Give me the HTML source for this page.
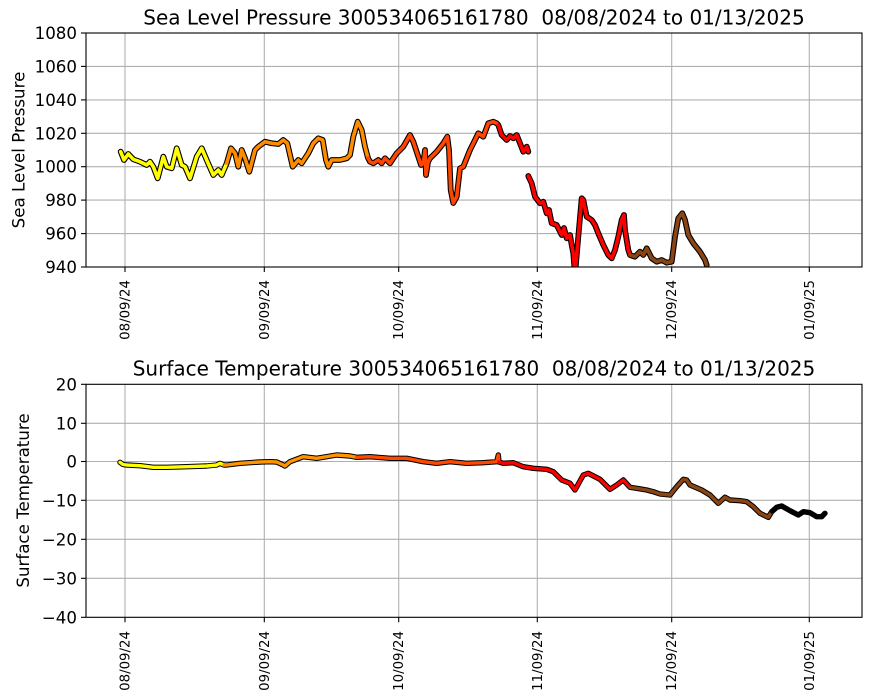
<!DOCTYPE html>
<html><head><meta charset="utf-8"><style>
html,body{margin:0;padding:0;background:#fff;}
svg{display:block;font-family:"DejaVu Sans","Liberation Sans",sans-serif;}
</style></head><body>
<svg width="870" height="700" viewBox="0 0 870 700" xmlns="http://www.w3.org/2000/svg">
<rect width="870" height="700" fill="#fff"/>
<defs>
<clipPath id="c1"><rect x="86" y="33" width="776" height="234"/></clipPath>
<clipPath id="c2"><rect x="86" y="384.3" width="776" height="233"/></clipPath>
</defs>

<!-- ===== TOP PLOT ===== -->
<g stroke="#b0b0b0" stroke-width="1.1" fill="none">
<line x1="125" y1="33" x2="125" y2="267"/><line x1="264.3" y1="33" x2="264.3" y2="267"/>
<line x1="398.7" y1="33" x2="398.7" y2="267"/><line x1="537.3" y1="33" x2="537.3" y2="267"/>
<line x1="671.7" y1="33" x2="671.7" y2="267"/><line x1="809.3" y1="33" x2="809.3" y2="267"/>
<line x1="86" y1="66.4" x2="862" y2="66.4"/><line x1="86" y1="99.9" x2="862" y2="99.9"/>
<line x1="86" y1="133.3" x2="862" y2="133.3"/><line x1="86" y1="166.7" x2="862" y2="166.7"/>
<line x1="86" y1="200.1" x2="862" y2="200.1"/><line x1="86" y1="233.6" x2="862" y2="233.6"/>
</g>
<g clip-path="url(#c1)" fill="none" stroke-linejoin="round" stroke-linecap="round">
<g stroke="#000" stroke-width="5.8">
<polyline points="120.7,151.7 124,160 128.3,154 133.3,159.3 140,161.7 146.7,165 150,161.7 153.3,166.7 157.7,178.3 163.3,156.7 166.7,166.7 171.7,168.3 176.7,148.3 181.7,165 185,166.7 190,178.3 196.7,156.7 201.7,148.3 206.7,160 213.3,175 218.3,170 221.7,175 226.7,163.3 231,148.3 235,153.3 238.3,166.7 241.7,150 245,158.3 249.3,171.7 255,150 258.3,146.7 265,141.7 271.7,143.3 278.3,144 283.3,140 287.3,143.3 292.7,166.7 298.3,160 301.7,163.3 308.3,153.3 313.3,143.3 318.3,138.3 322.7,140 326,160 328.3,166.7 331.7,160 340,160 346.7,158.3 350,155 353.3,136.7 357.7,121.7 361.7,130 365,146.7 368,158 370,161.7 373.3,163.3 378.3,160 381.7,163.3 385,158.3 390,163.3 396.7,153.3 403.3,146.7 410,135 413.3,141.7 418.3,156.7 421,165 423.3,163.3 425,150 426,175 428,162 430,158.3 436.7,151.7 443.3,143.3 447.3,136.7 449,150 450.7,190 453.3,203 456.7,196.7 460,168.3 463.3,166.7 470,150 475,140 478.3,133.3 483.3,136.7 488.3,123.3 493.3,121.7 496.7,123.3 498.3,125 501.7,135 506.7,140 510,136 513.3,138.3 516.7,135 520,143.3 523.3,151.7 526.7,146.7 528.3,151.7"/>
<polyline points="528.3,176 531.7,183.3 535,196.7 540,203.3 543.3,201.7 546.7,213.3 549,210 551.7,223.3 556.7,225 561.7,235 564,228 566.7,238.3 570,235 571.7,245 573.3,253.3 575,275 578,240 581.7,198.3 583.3,200 586.7,216.7 591.7,220 595,225 598.3,233.3 603.3,245 608.3,255 611.7,258.3 615,250 618.3,236.7 621.7,220 624,215 625,230 628.3,250 630,255 635,256.7 640,251.7 643.3,255 646.7,248.3 651.7,258.3 656.7,261.7 661.7,260 666.7,262.7 671.7,261.7 675,236.7 678.3,218.3 682.3,213.3 685,220 688.3,235 693.3,243.3 700,251.7 705,260 706.7,265"/>
</g>
<g stroke-width="3.6">
<polyline stroke="#ffff00" points="120.7,151.7 124,160 128.3,154 133.3,159.3 140,161.7 146.7,165 150,161.7 153.3,166.7 157.7,178.3 163.3,156.7 166.7,166.7 171.7,168.3 176.7,148.3 181.7,165 185,166.7 190,178.3 196.7,156.7 201.7,148.3 206.7,160 213.3,175 218.3,170 221.7,175 226.7,163.3"/>
<polyline stroke="#ff8c00" points="226.7,163.3 231,148.3 235,153.3 238.3,166.7 241.7,150 245,158.3 249.3,171.7 255,150 258.3,146.7 265,141.7 271.7,143.3 278.3,144 283.3,140 287.3,143.3 292.7,166.7 298.3,160 301.7,163.3 308.3,153.3 313.3,143.3 318.3,138.3 322.7,140 326,160 328.3,166.7 331.7,160 340,160 346.7,158.3 350,155 353.3,136.7 357.7,121.7 361.7,130 365,146.7 368,158"/>
<polyline stroke="#ff4500" points="368,158 370,161.7 373.3,163.3 378.3,160 381.7,163.3 385,158.3 390,163.3 396.7,153.3 403.3,146.7 410,135 413.3,141.7 418.3,156.7 421,165 423.3,163.3 425,150 426,175 428,162 430,158.3 436.7,151.7 443.3,143.3 447.3,136.7 449,150 450.7,190 453.3,203 456.7,196.7 460,168.3 463.3,166.7 470,150 475,140 478.3,133.3 483.3,136.7 488.3,123.3 493.3,121.7 496.7,123.3 498.3,125"/>
<polyline stroke="#ff0000" points="498.3,125 501.7,135 506.7,140 510,136 513.3,138.3 516.7,135 520,143.3 523.3,151.7 526.7,146.7 528.3,151.7"/>
<polyline stroke="#ff0000" points="528.3,176 531.7,183.3 535,196.7 540,203.3 543.3,201.7 546.7,213.3 549,210 551.7,223.3 556.7,225 561.7,235 564,228 566.7,238.3 570,235 571.7,245 573.3,253.3 575,275 578,240 581.7,198.3 583.3,200 586.7,216.7 591.7,220 595,225 598.3,233.3 603.3,245 608.3,255 611.7,258.3 615,250 618.3,236.7 621.7,220 624,215 625,230 628.3,250 630,255"/>
<polyline stroke="#8b4513" points="630,255 635,256.7 640,251.7 643.3,255 646.7,248.3 651.7,258.3 656.7,261.7 661.7,260 666.7,262.7 671.7,261.7 675,236.7 678.3,218.3 682.3,213.3 685,220 688.3,235 693.3,243.3 700,251.7 705,260 706.7,265"/>
</g>
</g>
<rect x="86" y="33" width="776" height="234" fill="none" stroke="#000" stroke-width="1.1"/>
<g stroke="#000" stroke-width="1.1">
<line x1="81" y1="33" x2="86" y2="33"/><line x1="81" y1="66.4" x2="86" y2="66.4"/><line x1="81" y1="99.9" x2="86" y2="99.9"/>
<line x1="81" y1="133.3" x2="86" y2="133.3"/><line x1="81" y1="166.7" x2="86" y2="166.7"/><line x1="81" y1="200.1" x2="86" y2="200.1"/>
<line x1="81" y1="233.6" x2="86" y2="233.6"/><line x1="81" y1="267" x2="86" y2="267"/>
<line x1="125" y1="267" x2="125" y2="272"/><line x1="264.3" y1="267" x2="264.3" y2="272"/><line x1="398.7" y1="267" x2="398.7" y2="272"/>
<line x1="537.3" y1="267" x2="537.3" y2="272"/><line x1="671.7" y1="267" x2="671.7" y2="272"/><line x1="809.3" y1="267" x2="809.3" y2="272"/>
</g>
<g font-size="16.67" fill="#000" text-anchor="end">
<text x="77" y="39">1080</text><text x="77" y="72.4">1060</text><text x="77" y="105.9">1040</text>
<text x="77" y="139.3">1020</text><text x="77" y="172.7">1000</text><text x="77" y="206.1">980</text>
<text x="77" y="239.6">960</text><text x="77" y="273">940</text>
</g>
<g font-size="13.33" fill="#000" text-anchor="end">
<text transform="translate(129.5,280) rotate(-90)">08/09/24</text>
<text transform="translate(268.8,280) rotate(-90)">09/09/24</text>
<text transform="translate(403.2,280) rotate(-90)">10/09/24</text>
<text transform="translate(541.8,280) rotate(-90)">11/09/24</text>
<text transform="translate(676.2,280) rotate(-90)">12/09/24</text>
<text transform="translate(813.8,280) rotate(-90)">01/09/25</text>
</g>
<text transform="translate(24.5,150) rotate(-90)" font-size="16.67" text-anchor="middle" fill="#000">Sea Level Pressure</text>
<text x="474" y="24.5" font-size="20" text-anchor="middle" fill="#000" xml:space="preserve">Sea Level Pressure 300534065161780  08/08/2024 to 01/13/2025</text>

<!-- ===== BOTTOM PLOT ===== -->
<g stroke="#b0b0b0" stroke-width="1.1" fill="none">
<line x1="125" y1="384.3" x2="125" y2="617.3"/><line x1="264.3" y1="384.3" x2="264.3" y2="617.3"/>
<line x1="398.7" y1="384.3" x2="398.7" y2="617.3"/><line x1="537.3" y1="384.3" x2="537.3" y2="617.3"/>
<line x1="671.7" y1="384.3" x2="671.7" y2="617.3"/><line x1="809.3" y1="384.3" x2="809.3" y2="617.3"/>
<line x1="86" y1="423.3" x2="862" y2="423.3"/><line x1="86" y1="461.5" x2="862" y2="461.5"/>
<line x1="86" y1="500.3" x2="862" y2="500.3"/><line x1="86" y1="539.3" x2="862" y2="539.3"/>
<line x1="86" y1="578.3" x2="862" y2="578.3"/>
</g>
<g clip-path="url(#c2)" fill="none" stroke-linejoin="round" stroke-linecap="round">
<polyline stroke="#000" stroke-width="5.4" points="120,462.3 123,464.5 126.7,465 140,465.7 153.3,467.3 166.7,467.3 186.7,466.7 206.7,466 216.7,465 220,463.3 224,465 226.7,465 240,463.3 260,462 270,461.7 276.7,462 283.3,465 285,466 290,461.7 303.3,456.7 316.7,458.3 336.7,455 350,456 356.7,457.3 370,456.7 390,458.3 406.7,458.3 423.3,461.7 436.7,463.3 450,461.7 466.7,463.3 483.3,462.7 496.7,461.7 498.3,455 499,462 503.3,463.3 513.3,462.7 523.3,466.7 533.3,468.3 546.7,469.3 553.3,471.7 561.7,480 570,483.3 575,490 583.3,475 588.3,473.3 600,479.3 610,489.3 616.7,485 623.3,480 630,487.3 636.7,488.3 646.7,490 653.3,491.7 660,494 670,495 676.7,486.7 683.3,479.3 686.7,480 690,485 701.7,490 710,495 718.3,503.3 725,497.3 730,500 740,500.7 746.7,501.7 753.3,506.7 760,513.3 768.3,517.3 771.7,511.7 776.7,507.3 781.7,506 790,510.7 798.3,515 803.3,511.7 810,512.7 816.7,516.7 821.7,516.7 825,513.3"/>
<g stroke-width="3.4">
<polyline stroke="#ffff00" points="120,462.3 123,464.5 126.7,465 140,465.7 153.3,467.3 166.7,467.3 186.7,466.7 206.7,466 216.7,465 220,463.3 224,465"/>
<polyline stroke="#ff9400" points="224,465 226.7,465 240,463.3 260,462 270,461.7 276.7,462 283.3,465 285,466 290,461.7 303.3,456.7 316.7,458.3 336.7,455 350,456 356.7,457.3"/>
<polyline stroke="#ff4800" points="356.7,457.3 370,456.7 390,458.3 406.7,458.3 423.3,461.7 436.7,463.3 450,461.7 466.7,463.3 483.3,462.7 496.7,461.7 498.3,455 499,462"/>
<polyline stroke="#ff0000" points="499,462 503.3,463.3 513.3,462.7 523.3,466.7 533.3,468.3 546.7,469.3 553.3,471.7 561.7,480 570,483.3 575,490 583.3,475 588.3,473.3 600,479.3 610,489.3 616.7,485 623.3,480 630,487.3"/>
<polyline stroke="#8b4513" points="630,487.3 636.7,488.3 646.7,490 653.3,491.7 660,494 670,495 676.7,486.7 683.3,479.3 686.7,480 690,485 701.7,490 710,495 718.3,503.3 725,497.3 730,500 740,500.7 746.7,501.7 753.3,506.7 760,513.3 768.3,517.3 771.7,511.7"/>
<polyline stroke="#000" points="771.7,511.7 776.7,507.3 781.7,506 790,510.7 798.3,515 803.3,511.7 810,512.7 816.7,516.7 821.7,516.7 825,513.3"/>
</g>
</g>
<rect x="86" y="384.3" width="776" height="233" fill="none" stroke="#000" stroke-width="1.1"/>
<g stroke="#000" stroke-width="1.1">
<line x1="81" y1="384.3" x2="86" y2="384.3"/><line x1="81" y1="423.3" x2="86" y2="423.3"/><line x1="81" y1="461.5" x2="86" y2="461.5"/>
<line x1="81" y1="500.3" x2="86" y2="500.3"/><line x1="81" y1="539.3" x2="86" y2="539.3"/><line x1="81" y1="578.3" x2="86" y2="578.3"/>
<line x1="81" y1="617.3" x2="86" y2="617.3"/>
<line x1="125" y1="617.3" x2="125" y2="622.3"/><line x1="264.3" y1="617.3" x2="264.3" y2="622.3"/><line x1="398.7" y1="617.3" x2="398.7" y2="622.3"/>
<line x1="537.3" y1="617.3" x2="537.3" y2="622.3"/><line x1="671.7" y1="617.3" x2="671.7" y2="622.3"/><line x1="809.3" y1="617.3" x2="809.3" y2="622.3"/>
</g>
<g font-size="16.67" fill="#000" text-anchor="end">
<text x="77" y="390.3">20</text><text x="77" y="429.3">10</text><text x="77" y="467.5">0</text>
<text x="77" y="506.3">−10</text><text x="77" y="545.3">−20</text><text x="77" y="584.3">−30</text>
<text x="77" y="623.3">−40</text>
</g>
<g font-size="13.33" fill="#000" text-anchor="end">
<text transform="translate(129.5,631) rotate(-90)">08/09/24</text>
<text transform="translate(268.8,631) rotate(-90)">09/09/24</text>
<text transform="translate(403.2,631) rotate(-90)">10/09/24</text>
<text transform="translate(541.8,631) rotate(-90)">11/09/24</text>
<text transform="translate(676.2,631) rotate(-90)">12/09/24</text>
<text transform="translate(813.8,631) rotate(-90)">01/09/25</text>
</g>
<text transform="translate(29,500.5) rotate(-90)" font-size="16.67" text-anchor="middle" fill="#000">Surface Temperature</text>
<text x="474" y="375.5" font-size="20" text-anchor="middle" fill="#000" xml:space="preserve">Surface Temperature 300534065161780  08/08/2024 to 01/13/2025</text>
</svg>
</body></html>
